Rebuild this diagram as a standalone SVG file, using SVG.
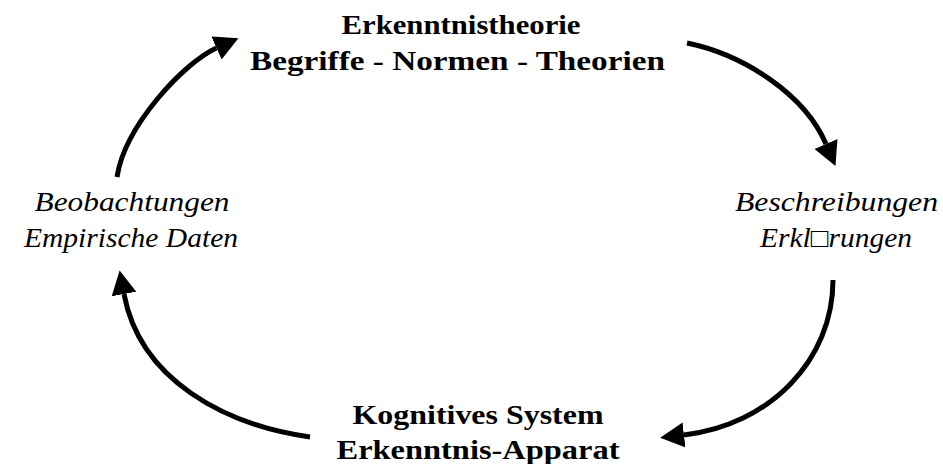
<svg xmlns="http://www.w3.org/2000/svg" width="943" height="464" viewBox="0 0 943 464">
  <style>
    .bold { font-family: "Liberation Serif", "Times New Roman", serif; font-weight: bold; font-size: 28px; fill: #000; text-anchor: middle; }
    .ital { font-family: "Liberation Serif", "Times New Roman", serif; font-style: italic; font-size: 27px; fill: #000; text-anchor: middle; }
    .arc { fill: none; stroke: #000; stroke-width: 5; marker-end: url(#head); }
  </style>
  <defs>
    <marker id="head" markerUnits="userSpaceOnUse" markerWidth="26" markerHeight="26" refX="0" refY="12.5" orient="auto">
      <path d="M0,0 L24,12.5 L0,25 z" fill="#000"/>
    </marker>
  </defs>
  <rect width="943" height="464" fill="#fff"/>

  <!-- cycle connectors -->
  <g id="connectors">
    <path class="arc" d="M117,177 C125,125 185,62 216.5,48"/>
    <path class="arc" d="M687,43 C745,55 805,95 826,144"/>
    <path class="arc" d="M833,280 C833,360 770,425 684,435"/>
    <path class="arc" d="M310,437 C225,425 140,380 124,294"/>
  </g>

  <g id="theory">
    <text class="bold" x="461" y="34" textLength="239" lengthAdjust="spacingAndGlyphs">Erkenntnistheorie</text>
    <text class="bold" x="457.5" y="70" textLength="415" lengthAdjust="spacingAndGlyphs">Begriffe - Normen - Theorien</text>
  </g>
  <g id="descriptions">
    <text class="ital" x="836.5" y="211" textLength="203" lengthAdjust="spacingAndGlyphs">Beschreibungen</text>
    <text class="ital" x="836" y="247" textLength="152" lengthAdjust="spacingAndGlyphs">Erkl□rungen</text>
  </g>
  <g id="cognition">
    <text class="bold" x="478" y="424" textLength="251" lengthAdjust="spacingAndGlyphs">Kognitives System</text>
    <text class="bold" x="478" y="459" textLength="283" lengthAdjust="spacingAndGlyphs">Erkenntnis-Apparat</text>
  </g>
  <g id="observations">
    <text class="ital" x="132" y="211" textLength="195" lengthAdjust="spacingAndGlyphs">Beobachtungen</text>
    <text class="ital" x="131" y="247" textLength="214" lengthAdjust="spacingAndGlyphs">Empirische Daten</text>
  </g>
</svg>
